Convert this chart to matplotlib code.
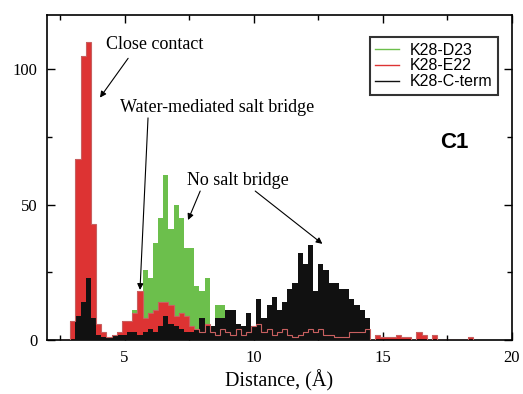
import numpy as np
import matplotlib.pyplot as plt
from matplotlib.ticker import MultipleLocator

# histogram grid: 0.2 A bins starting at 2.5 A
bin_start = 2.5
bin_width = 0.2

# counts per bin (80 bins, 2.5 .. 18.5 A)
k28_d23 = [0, 0, 0, 0, 0, 0, 0, 0, 0, 0,
           0, 0, 0, 3, 11, 14, 26, 23, 36, 45,
           61, 41, 50, 45, 34, 34, 20, 18, 23, 5,
           13, 13, 3, 0, 0, 0, 0, 0, 0, 0,
           0, 0, 0, 0, 0, 0, 0, 0, 0, 0,
           0, 0, 0, 0, 0, 0, 0, 0, 0, 0,
           0, 0, 0, 0, 0, 0, 0, 0, 0, 0,
           0, 0, 0, 0, 0, 0, 0, 0, 0, 0]

k28_e22 = [0, 0, 7, 67, 105, 110, 43, 6, 3, 1,
           2, 3, 7, 7, 10, 18, 8, 10, 11, 14,
           14, 13, 9, 10, 9, 5, 4, 3, 6, 3,
           2, 4, 3, 2, 4, 2, 3, 5, 6, 3,
           4, 2, 3, 4, 2, 1, 2, 3, 4, 3,
           4, 2, 2, 1, 1, 1, 3, 3, 3, 4,
           0, 2, 1, 1, 1, 2, 1, 1, 0, 3,
           2, 0, 2, 0, 0, 0, 0, 0, 0, 1]

k28_cterm = [0, 0, 0, 9, 14, 23, 8, 2, 1, 1,
             2, 2, 2, 3, 3, 2, 3, 4, 3, 5,
             9, 6, 5, 4, 3, 3, 4, 8, 5, 5,
             8, 8, 11, 11, 6, 5, 10, 5, 15, 8,
             13, 16, 11, 14, 19, 21, 32, 28, 35, 18,
             28, 26, 21, 21, 19, 19, 15, 13, 11, 8,
             0, 0, 0, 0, 0, 0, 0, 0, 0, 0,
             0, 0, 0, 0, 0, 0, 0, 0, 0, 0]

edges = bin_start + bin_width * np.arange(len(k28_e22) + 1)

GREEN = '#6cbf4c'
RED = '#dd3333'
BLACK = '#111111'

serif = ['Liberation Serif', 'DejaVu Serif']
sans = ['Liberation Sans', 'DejaVu Sans']

fig = plt.figure(figsize=(5.23, 3.94), dpi=100)
ax = fig.add_axes([0.0899, 0.137, 0.889, 0.825])

ax.stairs(k28_d23, edges, fill=True, color=GREEN, zorder=1)
ax.stairs(k28_e22, edges, fill=True, color=RED, zorder=2)
ax.stairs(k28_cterm, edges, fill=True, color=BLACK, zorder=3)
ax.stairs(k28_e22, edges, color='#c86060', linewidth=0.8, zorder=4)

# legend uses thin line handles
ax.plot([], [], color=GREEN, lw=1, label='K28-D23')
ax.plot([], [], color=RED, lw=1, label='K28-E22')
ax.plot([], [], color=BLACK, lw=1, label='K28-C-term')
leg = ax.legend(loc='upper right', bbox_to_anchor=(0.970, 0.932), borderaxespad=0,
                fancybox=False, prop={'family': sans, 'size': 11.5},
                handlelength=1.5, borderpad=0.35, labelspacing=0.05,
                handletextpad=0.65)
leg.get_frame().set_edgecolor('black')
leg.get_frame().set_linewidth(1.5)

ax.set_xlim(2, 20)
ax.set_ylim(0, 120)
ax.xaxis.set_major_locator(MultipleLocator(5))
ax.xaxis.set_minor_locator(MultipleLocator(2.5))
ax.yaxis.set_major_locator(MultipleLocator(50))
ax.yaxis.set_minor_locator(MultipleLocator(25))
ax.tick_params(which='both', direction='in', top=True, right=True, width=1.0)
ax.tick_params(which='major', length=6, labelsize=12, pad=7)
ax.tick_params(which='minor', length=3.5)
for lab in ax.get_xticklabels() + ax.get_yticklabels():
    lab.set_family(serif)
for s in ax.spines.values():
    s.set_linewidth(1.2)

ax.set_xlabel('Distance, (Å)', family=serif, fontsize=14.5, labelpad=3)

ax.text(17.2, 73, 'C1', family=sans, fontsize=16, fontweight='bold', va='center')

arrow = dict(arrowstyle='-|>', color='black', lw=0.8, mutation_scale=9, shrinkA=0, shrinkB=0)
ax.text(4.29, 109, 'Close contact', family=serif, fontsize=13, va='center')
ax.annotate('', xy=(4.05, 89.5), xytext=(5.14, 104), arrowprops=arrow)
ax.text(4.83, 86, 'Water-mediated salt bridge', family=serif, fontsize=13, va='center')
ax.annotate('', xy=(5.6, 18.5), xytext=(5.91, 82), arrowprops=arrow)
ax.text(7.43, 59, 'No salt bridge', family=serif, fontsize=13, va='center')
ax.annotate('', xy=(7.46, 44.3), xytext=(7.93, 55), arrowprops=arrow)
ax.annotate('', xy=(12.66, 35.5), xytext=(10.06, 55), arrowprops=arrow)

fig.savefig('out.png', dpi=100)
